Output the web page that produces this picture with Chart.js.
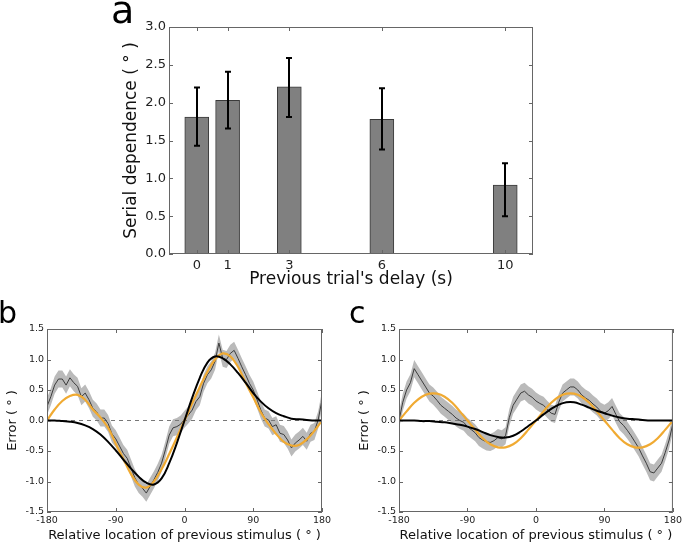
<!DOCTYPE html>
<html>
<head>
<meta charset="utf-8">
<script src="https://cdn.jsdelivr.net/npm/chart.js@4.4.1/dist/chart.umd.min.js"></script>
<style>
  html, body { margin: 0; padding: 0; background: #fff; }
  #wrap { position: relative; width: 685px; height: 543px; overflow: hidden; }
  #wrap canvas { position: absolute; left: 0; top: 0; }
  .lbl { position: absolute; font-family: 'DejaVu Sans'; color: #000; line-height: 1; }
</style>
</head>
<body>
<div id="wrap">
  <canvas id="chartA" width="685" height="543"></canvas>
  <canvas id="chartB" width="685" height="543"></canvas>
  <canvas id="chartC" width="685" height="543"></canvas>
  <div class="lbl" style="left:111px; top:-9px; font-size:38px;">a</div>
  <div class="lbl" style="left:-2px; top:298px; font-size:30px;">b</div>
  <div class="lbl" style="left:349px; top:298px; font-size:30px;">c</div>
</div>
<script>
// --- panel a: serial dependence per previous delay ---
const delays = [0, 1, 3, 6, 10];
const serialDep = [1.81, 2.03, 2.21, 1.78, 0.91];
const errLow = [1.43, 1.66, 1.81, 1.38, 0.50];
const errHigh = [2.20, 2.41, 2.59, 2.19, 1.20];
const yTicksA = [0, 0.5, 1, 1.5, 2, 2.5, 3];

// --- panels b and c: error vs relative location ---
const angleTicks = [-180, -90, 0, 90, 180];
const errTicks = [-1.5, -1, -0.5, 0, 0.5, 1, 1.5];

const xFine = [-180, -175, -170, -165, -160, -155, -150, -145, -140, -135,
  -130, -125, -120, -115, -110, -105, -100, -95, -90, -85,
  -80, -75, -70, -65, -60, -55, -50, -45, -40, -35,
  -30, -25, -20, -15, -10, -5, 0, 5, 10, 15,
  20, 25, 30, 35, 40, 45, 50, 55, 60, 65,
  70, 75, 80, 85, 90, 95, 100, 105, 110, 115,
  120, 125, 130, 135, 140, 145, 150, 155, 160, 165,
  170, 175, 180];

const xCoarse = [-180, -170, -160, -150, -140, -130, -120, -110, -100, -90,
  -80, -70, -60, -50, -40, -30, -20, -10, 0, 10,
  20, 30, 40, 50, 60, 70, 80, 90, 100, 110,
  120, 130, 140, 150, 160, 170, 180];

const meanB = [0.23, 0.39, 0.58, 0.68, 0.68, 0.58, 0.70, 0.62, 0.56, 0.39,
  0.45, 0.34, 0.20, 0.14, 0.04, 0.04, -0.05, -0.22, -0.30, -0.42,
  -0.54, -0.62, -0.78, -0.94, -1.05, -1.11, -1.19, -1.08, -0.97, -0.85,
  -0.70, -0.48, -0.24, -0.12, -0.10, -0.06, 0.02, 0.09, 0.17, 0.31,
  0.39, 0.61, 0.75, 0.83, 0.97, 1.27, 1.02, 1.00, 1.10, 1.15,
  1.02, 0.88, 0.75, 0.61, 0.50, 0.34, 0.17, 0.04, 0.01, -0.10,
  -0.07, -0.21, -0.23, -0.32, -0.45, -0.37, -0.32, -0.26, -0.34, -0.21,
  -0.18, 0.01, 0.34];

const meanC = [0.00, 0.30, 0.50, 0.62, 0.85, 0.75, 0.65, 0.55, 0.45, 0.40,
  0.33, 0.25, 0.20, 0.15, 0.10, 0.04, 0.00, -0.03, -0.10, -0.15,
  -0.20, -0.28, -0.32, -0.35, -0.36, -0.33, -0.28, -0.30, -0.25, 0.05,
  0.25, 0.35, 0.45, 0.48, 0.42, 0.38, 0.32, 0.28, 0.25, 0.18,
  0.12, 0.10, 0.30, 0.45, 0.50, 0.55, 0.55, 0.50, 0.42, 0.37,
  0.33, 0.27, 0.22, 0.15, 0.12, 0.16, 0.23, 0.10, -0.02, -0.08,
  -0.16, -0.25, -0.35, -0.45, -0.58, -0.70, -0.84, -0.86, -0.78, -0.70,
  -0.52, -0.32, -0.05];

const semB = 0.14;
const semC = 0.14;

const orangeB = [0, 0.18, 0.32, 0.40, 0.42, 0.34, 0.18, 0.05, -0.12, -0.38,
  -0.63, -0.88, -1.05, -1.10, -1.00, -0.80, -0.55, -0.28, 0, 0.28,
  0.55, 0.80, 1.00, 1.10, 1.05, 0.88, 0.62, 0.38, 0.13, -0.06,
  -0.22, -0.35, -0.41, -0.40, -0.31, -0.17, 0];

const blackB = [0, 0, -0.01, -0.02, -0.04, -0.08, -0.14, -0.23, -0.35, -0.49,
  -0.64, -0.79, -0.92, -1.02, -1.05, -0.95, -0.70, -0.37, 0, 0.37,
  0.70, 0.95, 1.05, 1.02, 0.92, 0.78, 0.62, 0.45, 0.31, 0.20,
  0.12, 0.07, 0.03, 0.02, 0.01, 0, 0];

const orangeC = [0, 0.15, 0.29, 0.39, 0.44, 0.44, 0.39, 0.29, 0.15, 0,
  -0.15, -0.29, -0.39, -0.44, -0.44, -0.39, -0.29, -0.15, 0, 0.15,
  0.29, 0.39, 0.44, 0.44, 0.39, 0.29, 0.15, 0, -0.15, -0.29,
  -0.39, -0.44, -0.44, -0.39, -0.29, -0.15, 0];

const blackC = [0, 0, 0, -0.01, -0.01, -0.02, -0.03, -0.05, -0.07, -0.10,
  -0.14, -0.19, -0.24, -0.27, -0.28, -0.25, -0.18, -0.09, 0, 0.10,
  0.19, 0.26, 0.30, 0.30, 0.26, 0.21, 0.16, 0.12, 0.08, 0.05,
  0.03, 0.02, 0.01, 0, 0, 0, 0];

const zeroX = [-180, 180];
const zeroY = [0, 0];

Chart.defaults.font.family = 'DejaVu Sans';
Chart.defaults.color = '#222';

// frame round the plot area plus inward ticks on all four sides (matplotlib classic look)
const frameTicks = {
  id: 'frameTicks',
  afterDatasetsDraw(chart, args, opts) {
    const { ctx, chartArea: a, scales: { x, y } } = chart;
    const len = opts.len || 4;
    ctx.save();
    ctx.strokeStyle = opts.color || '#666';
    ctx.lineWidth = 1;
    ctx.beginPath();
    x.ticks.forEach(t => {
      const px = Math.round(x.getPixelForValue(t.value)) + 0.5;
      ctx.moveTo(px, a.bottom); ctx.lineTo(px, a.bottom - len);
      ctx.moveTo(px, a.top); ctx.lineTo(px, a.top + len);
    });
    y.ticks.forEach(t => {
      const py = Math.round(y.getPixelForValue(t.value)) + 0.5;
      ctx.moveTo(a.left, py); ctx.lineTo(a.left + len, py);
      ctx.moveTo(a.right, py); ctx.lineTo(a.right - len, py);
    });
    ctx.stroke();
    ctx.strokeRect(a.left + 0.5, a.top + 0.5, a.width - 1, a.height - 1);
    ctx.restore();
  }
};

// error bars for panel a, from errLow / errHigh
const errorBars = {
  id: 'errorBars',
  afterDatasetsDraw(chart) {
    const { ctx, scales: { x, y } } = chart;
    ctx.save();
    ctx.strokeStyle = '#000';
    ctx.lineWidth = 2;
    ctx.beginPath();
    delays.forEach((d, i) => {
      const px = Math.round(x.getPixelForValue(d));
      const yl = y.getPixelForValue(errLow[i]);
      const yh = y.getPixelForValue(errHigh[i]);
      ctx.moveTo(px, yl); ctx.lineTo(px, yh);
      ctx.moveTo(px - 3, yl); ctx.lineTo(px + 3, yl);
      ctx.moveTo(px - 3, yh); ctx.lineTo(px + 3, yh);
    });
    ctx.stroke();
    ctx.restore();
  }
};

function fixedSize(prop, size) {
  return scale => { scale[prop] = size; };
}

// --- panel a ---
new Chart(document.getElementById('chartA'), {
  type: 'bar',
  data: {
    datasets: [{
      data: delays.map((d, i) => ({ x: d, y: serialDep[i] })),
      backgroundColor: '#808080',
      borderColor: '#3a3a3a',
      borderWidth: 1,
      borderSkipped: false,
      barThickness: 24
    }]
  },
  options: {
    responsive: false,
    animation: false,
    events: [],
    layout: { padding: { left: 117, right: 152, top: 27, bottom: 249 } },
    plugins: { legend: { display: false }, tooltip: { enabled: false } },
    scales: {
      x: {
        type: 'linear', min: -0.9, max: 10.9, offset: false,
        grid: { display: false, drawTicks: false }, border: { display: false },
        afterBuildTicks: s => { s.ticks = delays.map(v => ({ value: v })); },
        afterFit: fixedSize('height', 40),
        ticks: { font: { size: 13 }, padding: 4, callback: v => String(v) },
        title: { display: true, text: "Previous trial's delay (s)", font: { size: 17 }, color: '#111' }
      },
      y: {
        min: 0, max: 3,
        grid: { display: false, drawTicks: false }, border: { display: false },
        afterBuildTicks: s => { s.ticks = yTicksA.map(v => ({ value: v })); },
        afterFit: fixedSize('width', 52),
        ticks: { font: { size: 13 }, padding: 3, callback: v => v.toFixed(1) },
        title: { display: true, text: 'Serial dependence ( ° )', font: { size: 17 }, color: '#111' }
      }
    }
  },
  plugins: [frameTicks, errorBars]
});

// --- panels b and c share one builder ---
function errorPanel(id, mean, sem, orange, black, padLeft, padRight) {
  const pts = (xs, ys) => xs.map((x, i) => ({ x, y: ys[i] }));
  return new Chart(document.getElementById(id), {
    type: 'line',
    data: {
      datasets: [
        { data: pts(xFine, mean.map(v => v + sem)), borderWidth: 0, pointRadius: 0,
          fill: '+1', backgroundColor: '#bababa', order: 5 },
        { data: pts(xFine, mean.map(v => v - sem)), borderWidth: 0, pointRadius: 0,
          fill: false, order: 5 },
        { data: pts(zeroX, zeroY), borderColor: '#777', borderWidth: 1,
          borderDash: [4, 4], pointRadius: 0, order: 4 },
        { data: pts(xFine, mean), borderColor: '#3c3c3c', borderWidth: 1,
          pointRadius: 0, tension: 0, order: 3 },
        { data: pts(xCoarse, orange), borderColor: '#f0aa32', borderWidth: 2.2,
          pointRadius: 0, tension: 0.4, order: 2 },
        { data: pts(xCoarse, black), borderColor: '#000', borderWidth: 2,
          pointRadius: 0, tension: 0.4, order: 1 }
      ]
    },
    options: {
      responsive: false,
      animation: false,
      events: [],
      layout: { padding: { left: padLeft, right: padRight, top: 329, bottom: 0 } },
      plugins: { legend: { display: false }, tooltip: { enabled: false } },
      scales: {
        x: {
          type: 'linear', min: -180, max: 180,
          grid: { display: false, drawTicks: false }, border: { display: false },
          afterBuildTicks: s => { s.ticks = angleTicks.map(v => ({ value: v })); },
          afterFit: fixedSize('height', 31),
          ticks: { font: { size: 9.5 }, padding: 3, maxRotation: 0, callback: v => String(v) },
          title: { display: true, text: 'Relative location of previous stimulus ( ° )',
            font: { size: 13 }, color: '#111', padding: { top: 0, bottom: 0 } }
        },
        y: {
          min: -1.5, max: 1.5,
          grid: { display: false, drawTicks: false }, border: { display: false },
          afterBuildTicks: s => { s.ticks = errTicks.map(v => ({ value: v })); },
          afterFit: fixedSize('width', 46),
          ticks: { font: { size: 9.5 }, padding: 3, callback: v => v.toFixed(1) },
          title: { display: true, text: 'Error ( ° )', font: { size: 13 }, color: '#111' }
        }
      }
    },
    plugins: [frameTicks]
  });
}

errorPanel('chartB', meanB, semB, orangeB, blackB, 1, 363);
errorPanel('chartC', meanC, semC, orangeC, blackC, 353, 11);
</script>
</body>
</html>
